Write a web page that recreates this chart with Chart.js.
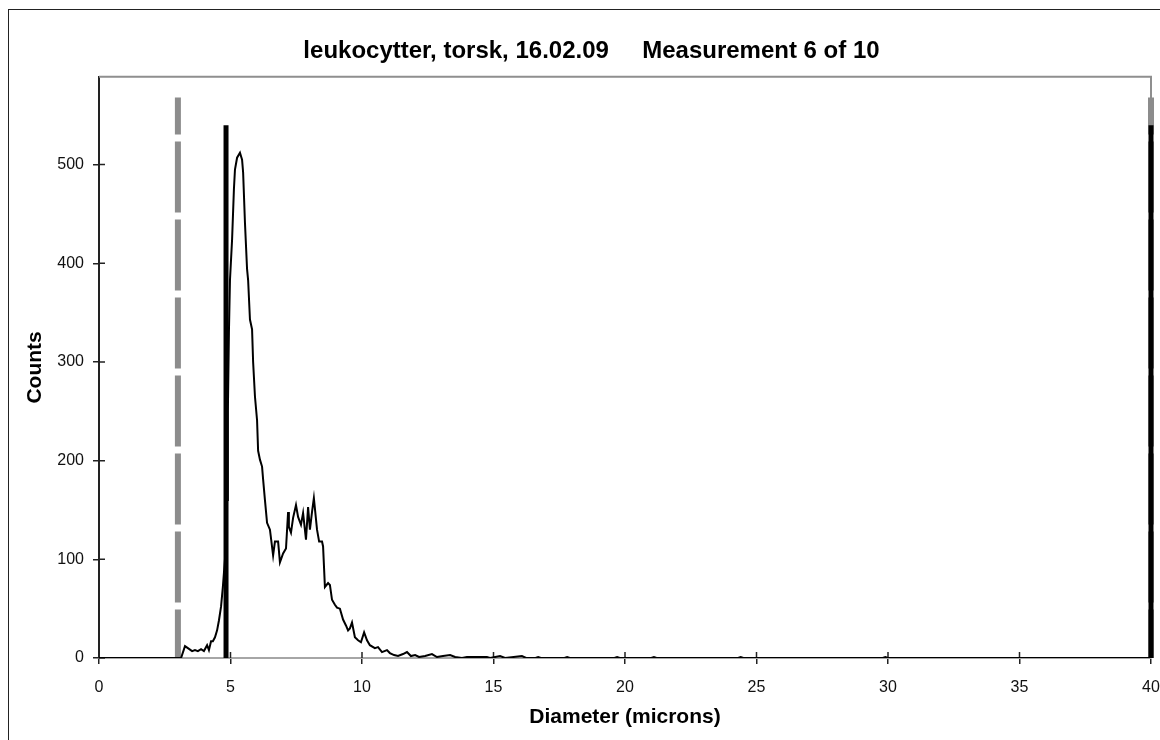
<!DOCTYPE html>
<html>
<head>
<meta charset="utf-8">
<script src="https://cdn.jsdelivr.net/npm/chart.js@4"></script>
<style>
  body { margin: 0; overflow: hidden; background: #fff; }
  #frame { position: absolute; left: 8px; top: 9px; width: 1300px; height: 900px;
           border-left: 1px solid #222; border-top: 1px solid #222; }
  #wrap { position: absolute; left: 0; top: 0; }
</style>
</head>
<body>
<div id="frame"></div>
<div id="wrap"><canvas id="sizeChart" width="1183" height="740"></canvas></div>
<script>
// size distribution
const diameters = [
  0, 3.00, 3.12, 3.27, 3.38, 3.54, 3.65, 3.76, 3.88, 3.99,
  4.11, 4.18, 4.26, 4.33, 4.41, 4.49, 4.56, 4.64, 4.71, 4.79,
  4.87, 4.90, 4.94, 4.98, 5.06, 5.13, 5.17, 5.25, 5.36, 5.44,
  5.48, 5.55, 5.63, 5.67, 5.74, 5.82, 5.86, 5.93, 6.01, 6.05,
  6.12, 6.20, 6.24, 6.31, 6.39, 6.50, 6.62, 6.69, 6.81, 6.88,
  7.00, 7.11, 7.19, 7.22, 7.30, 7.38, 7.49, 7.57, 7.68, 7.76,
  7.87, 7.95, 8.02, 8.10, 8.17, 8.29, 8.37, 8.48, 8.52, 8.59,
  8.71, 8.78, 8.86, 8.97, 9.05, 9.16, 9.28, 9.39, 9.47, 9.54,
  9.62, 9.73, 9.85, 9.96, 10.08, 10.19, 10.30, 10.49, 10.61, 10.76,
  10.95, 11.06, 11.22, 11.37, 11.56, 11.71, 11.86, 12.02, 12.17, 12.40,
  12.66, 12.85, 13.08, 13.35, 13.54, 13.80, 13.99, 14.75, 14.87, 15.25,
  15.44, 16.08, 16.24, 16.6, 16.7, 16.8, 17.7, 17.8, 17.9, 19.6,
  19.7, 19.8, 21.0, 21.1, 21.2, 24.3, 24.4, 24.5, 29.8, 29.9,
  30.0, 40
];
const counts = [
  0, 0, 0, 12, 10, 7, 8, 7, 9, 7,
  13, 8, 17, 17, 21, 28, 38, 52, 72, 100,
  160, 250, 330, 383, 424, 475, 495, 507, 512, 505,
  492, 441, 394, 383, 343, 333, 300, 265, 241, 210,
  201, 194, 181, 160, 137, 130, 104, 118, 118, 97,
  106, 111, 148, 133, 127, 142, 155, 143, 135, 147,
  120, 153, 130, 148, 162, 130, 118, 118, 113, 72,
  76, 74, 59, 54, 51, 50, 39, 33, 28, 30,
  36, 21, 18, 16, 26, 18, 13, 10, 11, 6,
  8, 5, 3, 2, 4, 6, 2, 3, 1, 2,
  4, 1, 2, 3, 1, 0, 1, 1, 0, 2,
  0, 2, 0, 0, 1, 0, 0, 1, 0, 0,
  1, 0, 0, 1, 0, 0, 1, 0, 0, 1,
  0, 0
];

// range markers (gray dashed) and cut-off lines (black)
const rangeX = [3.0, 40];
const rangeTop = 568;
const cutX = [4.83, 40];
const cutTop = 540;

const xTicks = [0, 5, 10, 15, 20, 25, 30, 35, 40];
const yTicks = [0, 100, 200, 300, 400, 500];

const FONT = "'Liberation Sans', Arial, sans-serif";

const curve = diameters.map((d, i) => ({ x: d, y: counts[i] }));

// chart.js paints dataset 0 last, so the top-most marks go first
const datasets = [];
cutX.forEach((x) => {
  datasets.push({
    data: [{ x: x, y: 0 }, { x: x, y: cutTop }],
    borderColor: "#000",
    borderWidth: 5,
    pointRadius: 0,
    showLine: true,
    clip: false,
  });
});
datasets.push({
  data: curve,
  borderColor: "#000",
  borderWidth: 2,
  pointRadius: 0,
  showLine: true,
  tension: 0,
});
rangeX.forEach((x) => {
  datasets.push({
    data: [{ x: x, y: rangeTop }, { x: x, y: 0 }],
    borderColor: "#8c8c8c",
    borderWidth: 6,
    borderDash: [71, 7],
    borderDashOffset: 34,
    pointRadius: 0,
    showLine: true,
    clip: false,
  });
});

// ticks that cross the axes + gray plot frame on top/right
const plotFrame = {
  id: "plotFrame",
  beforeDatasetsDraw(chart) {
    const { ctx, chartArea: a, scales } = chart;
    ctx.save();
    ctx.strokeStyle = "#8f8f8f";
    ctx.lineWidth = 2;
    ctx.beginPath();
    ctx.moveTo(a.left, a.top);
    ctx.lineTo(a.right, a.top);
    ctx.lineTo(a.right, a.bottom);
    ctx.stroke();
    ctx.strokeStyle = "#222";
    ctx.lineWidth = 1.5;
    ctx.beginPath();
    xTicks.forEach((v) => {
      const px = scales.x.getPixelForValue(v);
      ctx.moveTo(px, a.bottom);
      ctx.lineTo(px, a.bottom - 6);
    });
    yTicks.forEach((v) => {
      const py = scales.y.getPixelForValue(v);
      ctx.moveTo(a.left, py);
      ctx.lineTo(a.left + 6, py);
    });
    ctx.stroke();
    ctx.restore();
  },
};

new Chart(document.getElementById("sizeChart"), {
  type: "scatter",
  data: { datasets: datasets },
  plugins: [plotFrame],
  options: {
    responsive: false,
    animation: false,
    devicePixelRatio: 1,
    layout: { padding: 0 },
    plugins: {
      legend: { display: false },
      tooltip: { enabled: false },
      title: {
        display: true,
        text: "leukocytter, torsk, 16.02.09     Measurement 6 of 10",
        color: "#000",
        font: { family: FONT, size: 24, weight: "bold" },
        padding: { top: 37, bottom: 11 },
      },
    },
    scales: {
      x: {
        type: "linear",
        min: 0,
        max: 40,
        afterBuildTicks: (scale) => {
          scale.ticks = xTicks.map((v) => ({ value: v }));
        },
        afterFit: (scale) => {
          scale.height = 82;
          scale.paddingRight = 32;
        },
        grid: { drawOnChartArea: false, tickLength: 6, color: "#222", lineWidth: 1.5 },
        border: { color: "#a6a6a6", width: 2 },
        ticks: {
          color: "#111",
          padding: 14,
          maxRotation: 0,
          font: { family: FONT, size: 16 },
        },
        title: {
          display: true,
          text: "Diameter (microns)",
          color: "#000",
          font: { family: FONT, size: 21, weight: "bold" },
          padding: { top: 0, bottom: 10 },
        },
      },
      y: {
        type: "linear",
        min: 0,
        max: 589,
        afterBuildTicks: (scale) => {
          scale.ticks = yTicks.map((v) => ({ value: v }));
        },
        afterFit: (scale) => {
          scale.width = 99;
        },
        grid: { drawOnChartArea: false, tickLength: 6, color: "#222", lineWidth: 1.5 },
        border: { color: "#222", width: 2 },
        ticks: {
          color: "#111",
          padding: 9,
          font: { family: FONT, size: 16 },
        },
        title: {
          display: true,
          text: "Counts",
          color: "#000",
          font: { family: FONT, size: 21, weight: "bold" },
          padding: { top: 23, bottom: 0 },
        },
      },
    },
  },
});
</script>
</body>
</html>
